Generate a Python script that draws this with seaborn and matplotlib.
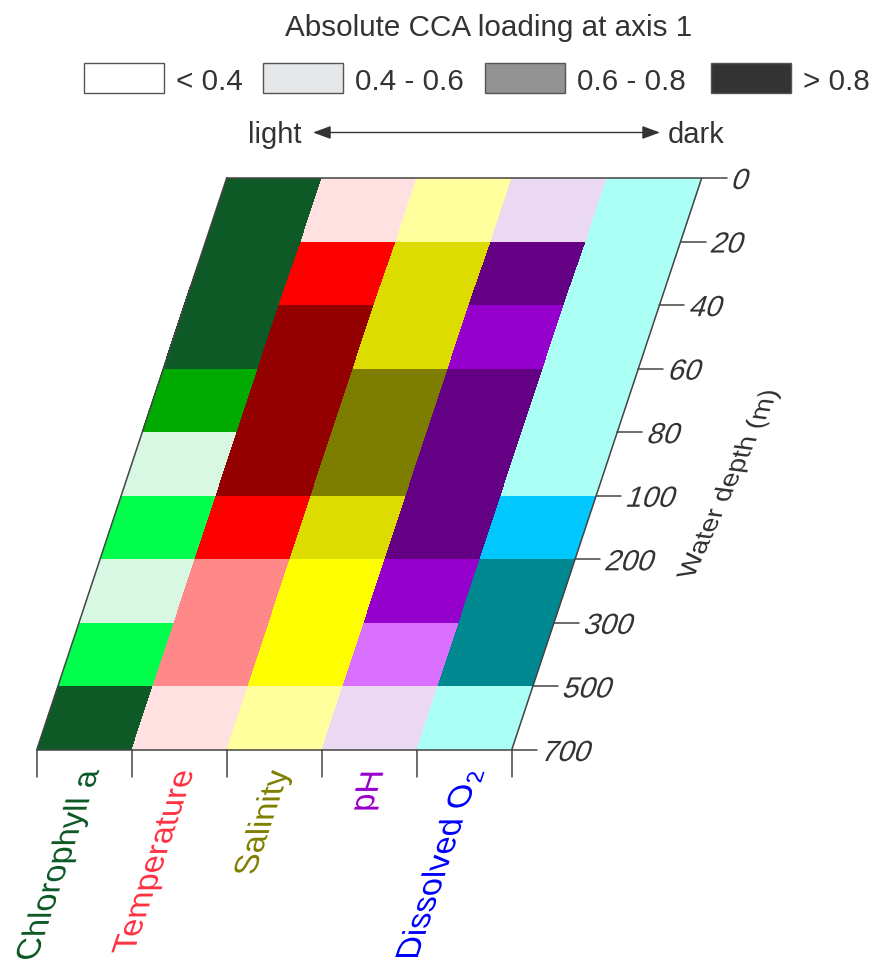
import numpy as np
import pandas as pd
import matplotlib
matplotlib.use('Agg')
import matplotlib.pyplot as plt
import seaborn as sns
from matplotlib.colors import ListedColormap
from matplotlib.transforms import Affine2D
from matplotlib.patches import Rectangle
from matplotlib.patheffects import AbstractPathEffect

# ---------------- data ----------------
variables = ['Chlorophyll a', 'Temperature', 'Salinity', 'pH', 'Dissolved O$_2$']
depth_bins = ['0-20', '20-40', '40-60', '60-80', '80-100',
              '100-200', '200-300', '300-500', '500-700']
depth_ticks = ['0', '20', '40', '60', '80', '100', '200', '300', '500', '700']

# loading class: 0 (<0.4), 1 (0.4-0.6), 2 (0.6-0.8), 3 (>0.8)
chl_level = [3, 3, 3, 2, 0, 1, 0, 1, 3]
temp_level = [0, 2, 3, 3, 3, 2, 1, 1, 0]
sal_level = [0, 2, 2, 3, 3, 2, 1, 1, 0]
ph_level = [0, 3, 2, 3, 3, 3, 2, 1, 0]
o2_level = [0, 0, 0, 0, 0, 1, 2, 2, 0]

chl_colors = ['#d8f8e4', '#00ff4c', '#00aa00', '#0e5a26']
temp_colors = ['#ffe1e1', '#ff8888', '#ff0000', '#940000']
sal_colors = ['#ffff9e', '#ffff00', '#dcdc00', '#7d7d00']
ph_colors = ['#ebd9f4', '#da70ff', '#9600cc', '#640084']
o2_colors = ['#abfff4', '#00c8ff', '#008890', '#00505a']

label_colors = ['#0e5a26', '#ff3344', '#808000', '#9900cc', '#0000ff']

legend_labels = ['< 0.4', '0.4 - 0.6', '0.6 - 0.8', '> 0.8']
legend_grays = ['#ffffff', '#e6e7e8', '#939393', '#333333']

# ---------------- build table ----------------
levels = np.array([chl_level, temp_level, sal_level, ph_level, o2_level]).T
codes = levels + 4 * np.arange(len(variables))
df = pd.DataFrame(codes, index=depth_bins, columns=variables)
cmap = ListedColormap(chl_colors + temp_colors + sal_colors + ph_colors + o2_colors)

sns.set_style('white')
plt.rcParams['font.family'] = ['Liberation Sans', 'DejaVu Sans']
plt.rcParams['mathtext.fontset'] = 'custom'
plt.rcParams['mathtext.rm'] = 'Liberation Sans'

W, H = 874, 962
fig = plt.figure(figsize=(W / 100, H / 100), dpi=100)
fig.patch.set_facecolor('white')

ncol, nrow = len(variables), len(depth_bins)
shift = 2.0  # horizontal offset of the top edge, in column widths
colw, roww = 95.0, 572.0 / nrow
x0, x1 = 36.7, 36.7 + colw * (ncol + shift)
ytop, ybot = 179, 751
ax = fig.add_axes([x0 / W, 1 - ybot / H, (x1 - x0) / W, (ybot - ytop) / H])
sns.heatmap(df, ax=ax, cmap=cmap, vmin=-0.5, vmax=19.5, cbar=False,
            linewidths=0)
ax.set_xlim(0, ncol + shift)
ax.set_ylim(nrow, 0)
ax.set_axis_off()

skew = Affine2D(np.array([[1.0, -shift / nrow, shift], [0, 1, 0], [0, 0, 1]]))
tr = skew + ax.transData
mesh = ax.collections[0]
mesh.set_transform(tr)
mesh.set_antialiased(True)

# display-space shear matching the skew of the grid (used for text glyphs)
k_shear = shift * colw / (nrow * roww)


class ShearText(AbstractPathEffect):
    def __init__(self):
        super().__init__((0, 0))

    def draw_path(self, renderer, gc, tpath, affine, rgbFace=None):
        y0 = ax.transData.transform((0, nrow))[1]
        sh = Affine2D(np.array([[1.0, k_shear, -k_shear * y0],
                                [0, 1, 0], [0, 0, 1]]))
        renderer.draw_path(gc, tpath, affine + sh, rgbFace)


shear_fx = [ShearText()]

frame_c = '#444444'
ax.plot([0, ncol, ncol, 0, 0], [0, 0, nrow, nrow, 0], color=frame_c, lw=1.1,
        transform=tr, clip_on=False, solid_joinstyle='miter')

# right (depth) ticks
tl = 25 / colw
for i, lab in enumerate(depth_ticks):
    ax.plot([ncol, ncol + tl], [i, i], color=frame_c, lw=1.1, transform=tr,
            clip_on=False)
    ax.text(ncol + tl + 7 / colw, i, lab, ha='left',
            va='center_baseline', fontsize=21, color='#333333',
            path_effects=shear_fx)

ax.text(6.36, 4.81, 'Water depth (m)', rotation=83, rotation_mode='anchor',
        ha='center', va='center', fontsize=19, color='#333333',
        path_effects=shear_fx)

# bottom ticks and variable labels
bl = 27 / roww
for j in range(ncol + 1):
    ax.plot([j, j], [nrow, nrow + bl], color=frame_c, lw=1.1, clip_on=False)
for j, (name, c) in enumerate(zip(variables, label_colors)):
    ax.text(j + 0.64, nrow + 20 / roww, name, rotation=90,
            rotation_mode='anchor', ha='right', va='center', fontsize=23.5,
            color=c, path_effects=shear_fx)

# ---------------- legend (pixel overlay) ----------------
lax = fig.add_axes([0, 0, 1, 1])
lax.set_xlim(0, W)
lax.set_ylim(H, 0)
lax.set_axis_off()

lax.text(488.5, 36, 'Absolute CCA loading at axis 1', ha='center',
         va='baseline', fontsize=21.3, color='#333333')
box_x = [84, 263, 485, 711]
for bx, g, lab in zip(box_x, legend_grays, legend_labels):
    lax.add_patch(Rectangle((bx, 64), 80, 30, facecolor=g, edgecolor='#555555',
                            lw=1))
    lax.text(bx + 92, 90, lab, ha='left', va='baseline', fontsize=21.3,
             color='#333333')

lax.annotate('', xy=(313, 133.5), xytext=(660, 133.5),
             arrowprops=dict(arrowstyle='<|-|>,head_length=0.6,head_width=0.22',
                             color='#333333', lw=1, shrinkA=0, shrinkB=0,
                             mutation_scale=18))
lax.text(248, 143, 'light', ha='left', va='baseline', fontsize=21,
         color='#333333')
lax.text(667.7, 143, 'dark', ha='left', va='baseline', fontsize=21,
         color='#333333')

fig.savefig('out.png', dpi=100, facecolor='white')
